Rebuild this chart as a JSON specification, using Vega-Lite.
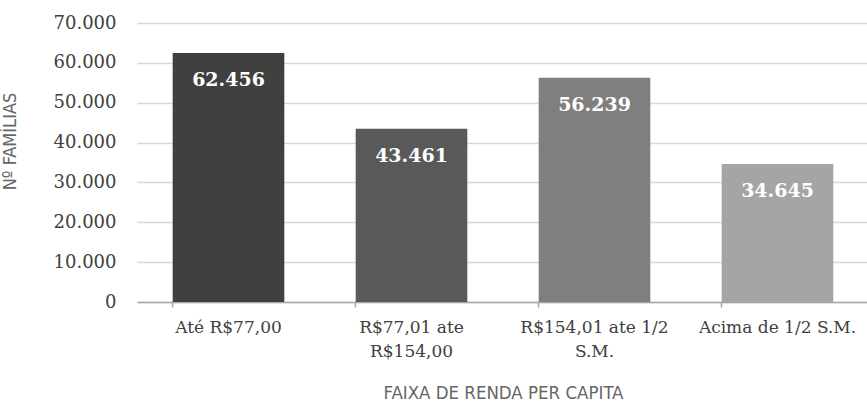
{
  "$schema": "https://vega.github.io/schema/vega-lite/v6.json",
  "width": 732,
  "height": 279,
  "autosize": "none",
  "padding": {"left": 137, "top": 23, "right": 0, "bottom": 104},
  "background": "white",
  "config": {
    "view": {"stroke": null},
    "locale": {"number": {"decimal": ",", "thousands": ".", "grouping": [3], "currency": ["R$", ""]}}
  },
  "data": {"values": [
    {"faixa": "Até R$77,00", "familias": 62456, "cor": "#404040"},
    {"faixa": "R$77,01 ate R$154,00", "familias": 43461, "cor": "#595959"},
    {"faixa": "R$154,01 ate 1/2 S.M.", "familias": 56239, "cor": "#7f7f7f"},
    {"faixa": "Acima de 1/2 S.M.", "familias": 34645, "cor": "#a5a5a5"}
  ]},
  "encoding": {
    "x": {
      "field": "faixa", "type": "nominal", "sort": null,
      "scale": {"paddingInner": 0.39, "paddingOuter": 0.195},
      "axis": {
        "title": "FAIXA DE RENDA PER CAPITA",
        "titleFont": "DejaVu Sans Condensed, Liberation Sans Narrow, sans-serif", "titleFontWeight": 300, "titleFontSize": 18.5, "titleColor": "#666666",
        "titlePadding": 24,
        "labelAngle": 0, "labelFont": "DejaVu Serif", "labelFontSize": 17, "labelColor": "#404040",
        "labelPadding": 12, "labelLineHeight": 24, "labelOverlap": false,
        "labelExpr": "datum.label == 'R$77,01 ate R$154,00' ? ['R$77,01 ate', 'R$154,00'] : datum.label == 'R$154,01 ate 1/2 S.M.' ? ['R$154,01 ate 1/2', 'S.M.'] : datum.label",
        "domainColor": "#a6a6a6", "domainWidth": 1.5,
        "ticks": true, "tickColor": "#a6a6a6", "tickSize": 5, "tickWidth": 1.5, "bandPosition": 0,
        "grid": false
      }
    },
    "y": {
      "field": "familias", "type": "quantitative",
      "scale": {"domain": [0, 70000]},
      "axis": {
        "title": "Nº FAMÍLIAS",
        "titleFont": "DejaVu Sans Condensed, Liberation Sans Narrow, sans-serif", "titleFontWeight": 300, "titleFontSize": 18, "titleColor": "#666666",
        "titleX": -127, "titleY": 118, "titleAngle": -90, "titleAnchor": "middle", "titleBaseline": "middle",
        "tickCount": 8,
        "values": [0, 10000, 20000, 30000, 40000, 50000, 60000, 70000],
        "format": ",d", "labelOverlap": false,
        "labelFont": "DejaVu Serif", "labelFontSize": 18, "labelColor": "#404040", "labelPadding": 21,
        "domain": false, "ticks": false,
        "grid": true, "gridColor": "#d9d9d9", "gridWidth": 1.5
      }
    }
  },
  "layer": [
    {
      "mark": {"type": "bar"},
      "encoding": {
        "color": {"field": "cor", "type": "nominal", "scale": null, "legend": null}
      }
    },
    {
      "mark": {"type": "text", "dy": 27, "baseline": "middle", "align": "center", "font": "DejaVu Serif", "fontWeight": "bold", "fontSize": 19, "color": "white"},
      "encoding": {
        "text": {"field": "familias", "type": "quantitative", "format": ",d"}
      }
    }
  ]
}
